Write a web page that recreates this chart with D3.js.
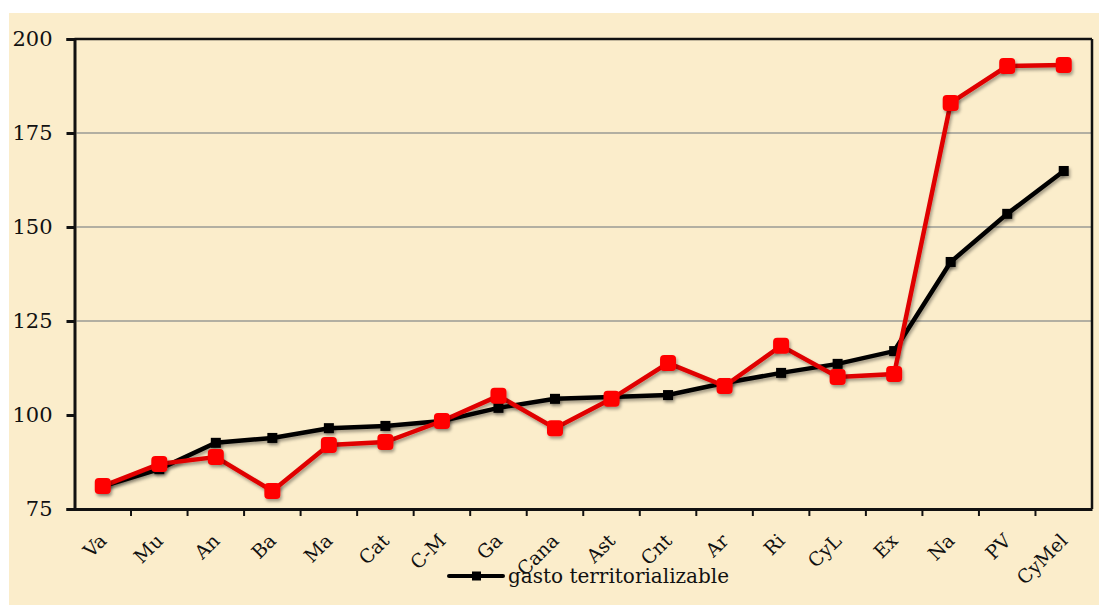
<!DOCTYPE html>
<html>
<head>
<meta charset="utf-8">
<script src="https://cdn.jsdelivr.net/npm/d3@7"></script>
<style>
  html, body { margin: 0; padding: 0; background: #ffffff; }
  svg { display: block; }
</style>
</head>
<body>
<svg id="chart" width="1099" height="605"></svg>
<script>
const regions = ['Va', 'Mu', 'An', 'Ba', 'Ma', 'Cat', 'C-M', 'Ga', 'Cana', 'Ast', 'Cnt', 'Ar', 'Ri', 'CyL', 'Ex', 'Na', 'PV', 'CyMel'];
const gastoTerritorializable = [81, 85.6, 92.6, 93.9, 96.5, 97.1, 98.4, 101.9, 104.3, 104.8, 105.3, 108.5, 111.2, 113.6, 117.0, 140.7, 153.5, 164.9];
const otraSerie = [81.1, 87.0, 88.8, 79.8, 92.0, 92.8, 98.4, 105.1, 96.5, 104.3, 113.8, 107.7, 118.4, 110.1, 110.9, 183.0, 192.8, 193.1];
const yTicks = [75, 100, 125, 150, 175, 200];
const gridTicks = [125, 150, 175];
const legendLabel = 'gasto territorializable';

const FONT = '"DejaVu Serif", "Liberation Serif", serif';

const svg = d3.select('#chart');
const margin = { top: 39, right: 7, bottom: 96, left: 74.5 };
const width = 1099 - margin.left - margin.right;
const height = 605 - margin.top - margin.bottom;

// drop shadow for the markers and the 100 line
const defs = svg.append('defs');
const f = defs.append('filter').attr('id', 'shadow').attr('x', '-50%').attr('y', '-50%').attr('width', '200%').attr('height', '200%');
f.append('feDropShadow').attr('dx', 1.5).attr('dy', 2.5).attr('stdDeviation', 1.8).attr('flood-color', '#000').attr('flood-opacity', 0.35);

svg.append('rect').attr('x', 9).attr('y', 13).attr('width', 1090).attr('height', 592).attr('fill', '#fbedcb');

const g = svg.append('g').attr('transform', `translate(${margin.left},${margin.top})`);

const x = d3.scaleBand().domain(regions).range([0, width]);
const y = d3.scaleLinear().domain([75, 200]).range([height, 0]);
const cx = d => x(d) + x.bandwidth() / 2;

// grid lines
g.append('g')
  .selectAll('line')
  .data(gridTicks)
  .join('line')
  .attr('x1', 2).attr('x2', width)
  .attr('y1', d => y(d)).attr('y2', d => y(d))
  .attr('stroke', '#9a9a94').attr('stroke-width', 1.5);

// frame: top and right
g.append('line').attr('x1', 0).attr('x2', width).attr('y1', 0).attr('y2', 0).attr('stroke', '#111').attr('stroke-width', 2.5);
g.append('line').attr('x1', width).attr('x2', width).attr('y1', 0).attr('y2', height).attr('stroke', '#111').attr('stroke-width', 2.5);

// y axis
const yAxis = g.append('g')
  .call(d3.axisLeft(y).tickValues(yTicks).tickSize(8).tickPadding(14));
yAxis.select('.domain').attr('stroke', '#111').attr('stroke-width', 3);
yAxis.selectAll('.tick line').attr('stroke', '#111').attr('stroke-width', 3);
yAxis.selectAll('.tick text').attr('font-size', 21).attr('font-family', FONT).attr('fill', '#111');

// x axis
const xAxis = g.append('g')
  .attr('transform', `translate(0,${height})`)
  .call(d3.axisBottom(x).tickSize(0).tickFormat(''));
xAxis.select('.domain').attr('stroke', '#111').attr('stroke-width', 3);
g.append('g')
  .selectAll('line')
  .data(regions.slice(1))
  .join('line')
  .attr('x1', d => x(d)).attr('x2', d => x(d))
  .attr('y1', height).attr('y2', height + 7)
  .attr('stroke', '#111').attr('stroke-width', 2);

// rotated category labels (-45deg)
g.append('g')
  .selectAll('text')
  .data(regions)
  .join('text')
  .attr('transform', d => `translate(${cx(d) + 5},${height + 33}) rotate(-45)`)
  .attr('text-anchor', 'end')
  .attr('font-family', FONT)
  .attr('font-size', 19)
  .attr('fill', '#111')
  .text(d => d);

// 100 reference line
g.append('line')
  .attr('x1', -8).attr('x2', width - 15)
  .attr('y1', y(100)).attr('y2', y(100))
  .attr('stroke', '#111').attr('stroke-width', 3.5)
  .attr('filter', 'url(#shadow)');

const line = d3.line().x((d, i) => cx(regions[i])).y(d => y(d));

// black series
g.append('path')
  .datum(gastoTerritorializable)
  .attr('fill', 'none').attr('stroke', '#000').attr('stroke-width', 4.5)
  .attr('filter', 'url(#shadow)')
  .attr('d', line);
g.append('g')
  .selectAll('rect')
  .data(gastoTerritorializable)
  .join('rect')
  .attr('x', (d, i) => cx(regions[i]) - 5).attr('y', d => y(d) - 5)
  .attr('width', 10).attr('height', 10)
  .attr('fill', '#000')
  .attr('filter', 'url(#shadow)');

// red series
g.append('path')
  .datum(otraSerie)
  .attr('fill', 'none').attr('stroke', '#e00000').attr('stroke-width', 4.5)
  .attr('filter', 'url(#shadow)')
  .attr('d', line);
g.append('g')
  .selectAll('rect')
  .data(otraSerie)
  .join('rect')
  .attr('x', (d, i) => cx(regions[i]) - 8).attr('y', d => y(d) - 8)
  .attr('width', 16).attr('height', 16).attr('rx', 4)
  .attr('fill', '#ff0000')
  .attr('filter', 'url(#shadow)');

// legend
const lg = svg.append('g').attr('transform', 'translate(449,576)');
lg.append('line').attr('x1', 0).attr('x2', 54).attr('y1', 0).attr('y2', 0)
  .attr('stroke', '#000').attr('stroke-width', 4).attr('stroke-linecap', 'round');
lg.append('rect').attr('x', 23).attr('y', -4.5).attr('width', 9).attr('height', 9).attr('fill', '#000');
lg.append('text').attr('x', 59).attr('y', 7).attr('font-family', FONT).attr('font-size', 20).attr('fill', '#111').text(legendLabel);
</script>
</body>
</html>
